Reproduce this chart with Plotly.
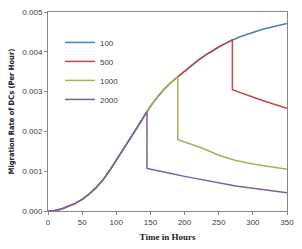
import plotly.graph_objects as go

# Shared rising curve (hours, rate)
rise_t = [0, 10, 20, 30, 40, 50, 60, 70, 80, 90, 100, 110, 120, 130, 140, 145, 150, 160, 170,
          180, 190, 200, 210, 220, 230, 240, 250, 260, 270, 280, 290, 300, 310, 320, 330, 340, 350]
rise_v = [0.0, 0.000012, 0.00005, 0.00011, 0.00019, 0.00029, 0.00042, 0.00058, 0.00077, 0.00101,
          0.00127, 0.00154, 0.00181, 0.00208, 0.00236, 0.0025, 0.00263, 0.00286, 0.00306,
          0.00323, 0.00337, 0.00352, 0.00366, 0.00379, 0.00391, 0.00402, 0.00412, 0.00421,
          0.0043, 0.00437, 0.00443, 0.00449, 0.00454, 0.00459, 0.00463, 0.00467, 0.00471]

names = ["100", "500", "1000", "2000"]
drop_t = [None, 270, 190, 145]
decay_t = {
    "500": [270, 290, 310, 330, 350],
    "1000": [190, 210, 230, 250, 275, 300, 325, 350],
    "2000": [145, 160, 180, 200, 225, 250, 275, 300, 325, 350],
}
decay_v = {
    "500": [0.00305, 0.00292, 0.0028, 0.00269, 0.00258],
    "1000": [0.0018, 0.00167, 0.00155, 0.0014, 0.00127, 0.00118, 0.00111, 0.00105],
    "2000": [0.00107, 0.00101, 0.00094, 0.00087, 0.00079, 0.00071, 0.00063, 0.00057, 0.00051, 0.00046],
}
colors = ["#4A7EBB", "#BE4B48", "#98B954", "#7D60A0"]

fig = go.Figure()
for name, dt, col in zip(names, drop_t, colors):
    if dt is None:
        xs, ys = rise_t, rise_v
    else:
        xs = [t for t in rise_t if t <= dt]
        ys = [v for t, v in zip(rise_t, rise_v) if t <= dt]
        xs = xs + decay_t[name]
        ys = ys + decay_v[name]
    fig.add_trace(go.Scatter(x=xs, y=ys, mode="lines", name=name, legendgroup=name,
                             line=dict(color=col, width=1.5)))

axis_common = dict(showline=True, linecolor="#868686", linewidth=1, mirror=True,
                   ticks="outside", ticklen=3, tickcolor="#868686", showgrid=False,
                   zeroline=False, tickfont=dict(family="Liberation Sans", size=8, color="#404040"))
fig.update_xaxes(range=[0, 350], tickvals=[0, 50, 100, 150, 200, 250, 300, 350],
                 title=dict(text="<b>Time in Hours</b>", font=dict(family="Liberation Serif", size=9, color="#222"), standoff=8),
                 **axis_common)
fig.update_yaxes(range=[0, 0.005], tickvals=[0, 0.001, 0.002, 0.003, 0.004, 0.005], tickformat=".3f",
                 title=dict(text="<b>Migration Rate of DCs (Per Hour)</b>", font=dict(family="DejaVu Sans Condensed, Liberation Sans", size=7.5, color="#222"), standoff=6),
                 **axis_common)
fig.update_layout(
    width=302, height=249,
    margin=dict(l=48, r=13, t=8, b=36),
    paper_bgcolor="white", plot_bgcolor="white",
    showlegend=True,
    legend=dict(x=0.05, y=0.92, xanchor="left", yanchor="top", font=dict(family="Liberation Sans", size=8, color="#404040"),
                bgcolor="rgba(0,0,0,0)", itemwidth=30, tracegroupgap=3, traceorder="normal"),
)
fig.write_html("out.html")
